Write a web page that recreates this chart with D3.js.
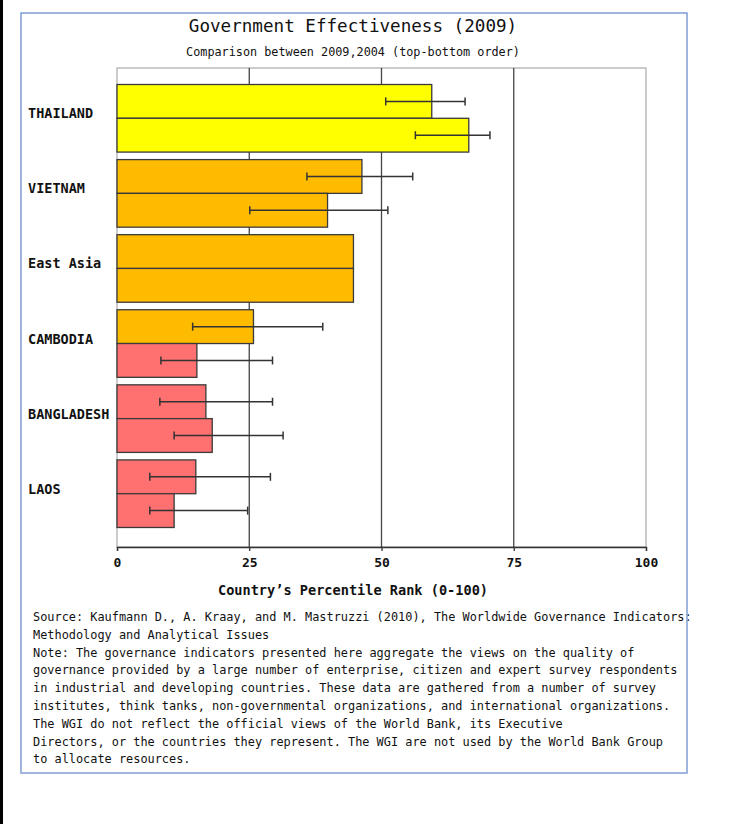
<!DOCTYPE html>
<html>
<head>
<meta charset="utf-8">
<script src="https://cdn.jsdelivr.net/npm/d3@7/dist/d3.min.js"></script>
<style>
  html, body { margin: 0; padding: 0; background: #fff; }
  svg { display: block; }
  text { font-family: "DejaVu Sans Mono", "Liberation Mono", monospace; fill: #111; }
</style>
</head>
<body>
<svg id="chart" width="736" height="824"></svg>
<script>
// Percentile ranks per country, 2009 (upper bar) and 2004 (lower bar)
const categories = ["THAILAND", "VIETNAM", "East Asia", "CAMBODIA", "BANGLADESH", "LAOS"];
const years = ["2009", "2004"];
const rank2009 = [59.5, 46.3, 44.7, 25.8, 16.8, 14.9];
const rank2004 = [66.5, 39.8, 44.7, 15.1, 18.0, 10.8];
// Margin-of-error ranges (regional aggregate has none)
const lower2009 = [50.8, 35.9, null, 14.3, 8.1, 6.2];
const upper2009 = [65.8, 55.9, null, 38.9, 29.4, 29.0];
const lower2004 = [56.4, 25.1, null, 8.3, 10.8, 6.2];
const upper2004 = [70.5, 51.2, null, 29.4, 31.4, 24.7];
const xTicks = [0, 25, 50, 75, 100];
const gridTicks = [25, 50, 75];

const title = "Government Effectiveness (2009)";
const subtitle = "Comparison between 2009,2004 (top-bottom order)";
const xTitle = "Country\u2019s Percentile Rank (0-100)";
const notes = [
  "Source: Kaufmann D., A. Kraay, and M. Mastruzzi (2010), The Worldwide Governance Indicators:",
  "Methodology and Analytical Issues",
  "Note: The governance indicators presented here aggregate the views on the quality of",
  "governance provided by a large number of enterprise, citizen and expert survey respondents",
  "in industrial and developing countries. These data are gathered from a number of survey",
  "institutes, think tanks, non-governmental organizations, and international organizations.",
  "The WGI do not reflect the official views of the World Bank, its Executive",
  "Directors, or the countries they represent. The WGI are not used by the World Bank Group",
  "to allocate resources."
];

const rows = categories.map((c, i) => ({
  category: c,
  bars: [
    { year: "2009", value: rank2009[i], lo: lower2009[i], hi: upper2009[i] },
    { year: "2004", value: rank2004[i], lo: lower2004[i], hi: upper2004[i] }
  ]
}));

const svg = d3.select("#chart");
const plot = { left: 117, right: 646, top: 68, bottom: 547 };
const centerX = 353;

const x = d3.scaleLinear().domain([0, 100]).range([plot.left, plot.right]);
const y = d3.scaleBand().domain(categories).range([77, 535]).paddingInner(0.1).paddingOuter(0.1);
const ySub = d3.scaleBand().domain(years).range([0, y.bandwidth()]);

// Percentile bracket colours
const color = d3.scaleThreshold()
  .domain([10, 25, 50, 75])
  .range(["#e00000", "#ff7070", "#ffbb00", "#ffff00", "#00b050"]);

// Left page rule
svg.append("rect").attr("x", 0).attr("y", 0).attr("width", 3).attr("height", 824).attr("fill", "#000");

// Titles
svg.append("text").attr("x", centerX).attr("y", 32).attr("text-anchor", "middle")
  .style("font-size", "17.6px").text(title);
svg.append("text").attr("x", centerX).attr("y", 56).attr("text-anchor", "middle")
  .style("font-size", "11.8px").text(subtitle);

// Plot box and grid
svg.append("rect")
  .attr("x", plot.left).attr("y", plot.top)
  .attr("width", plot.right - plot.left).attr("height", plot.bottom - plot.top)
  .attr("fill", "none").attr("stroke", "#aaa").attr("stroke-width", 1.2);

svg.append("g").selectAll("line").data(gridTicks).join("line")
  .attr("x1", d => x(d)).attr("x2", d => x(d))
  .attr("y1", plot.top).attr("y2", plot.bottom)
  .attr("stroke", "#444").attr("stroke-width", 1.3);

// Bars
const groups = svg.append("g").selectAll("g").data(rows).join("g")
  .attr("transform", d => `translate(0,${y(d.category)})`);

groups.selectAll("rect").data(d => d.bars).join("rect")
  .attr("x", x(0))
  .attr("y", d => ySub(d.year))
  .attr("width", d => x(d.value) - x(0))
  .attr("height", ySub.bandwidth())
  .attr("fill", d => color(d.value))
  .attr("stroke", "#3a3a3a").attr("stroke-width", 1.3);

// Error bars
const err = groups.selectAll("g.err").data(d => d.bars.filter(b => b.lo != null)).join("g")
  .attr("class", "err")
  .attr("transform", d => `translate(0,${ySub(d.year) + ySub.bandwidth() / 2})`);
err.append("line").attr("x1", d => x(d.lo)).attr("x2", d => x(d.hi))
  .attr("stroke", "#333").attr("stroke-width", 1.5);
err.selectAll("line.cap").data(d => [d.lo, d.hi]).join("line").attr("class", "cap")
  .attr("x1", v => x(v)).attr("x2", v => x(v)).attr("y1", -4).attr("y2", 4)
  .attr("stroke", "#333").attr("stroke-width", 1.5);

// Category labels
svg.append("g").selectAll("text").data(categories).join("text")
  .attr("x", 28).attr("y", d => y(d) + y.bandwidth() / 2)
  .style("font-size", "13.5px").style("font-weight", "bold")
  .text(d => d);

// X axis
const xAxis = svg.append("g").attr("transform", `translate(0,${plot.bottom})`)
  .call(d3.axisBottom(x).tickValues(xTicks).tickSize(4).tickPadding(7));
xAxis.select(".domain").attr("stroke", "#333").attr("stroke-width", 1.3);
xAxis.selectAll(".tick line").attr("stroke", "#333").attr("stroke-width", 1.3);
xAxis.selectAll(".tick text")
  .style("font-family", "'DejaVu Sans Mono', monospace")
  .style("font-size", "13px").style("font-weight", "bold").attr("fill", "#111");

svg.append("text").attr("x", centerX).attr("y", 595).attr("text-anchor", "middle")
  .style("font-size", "13.6px").style("font-weight", "bold").text(xTitle);

// Notes
svg.append("g").selectAll("text").data(notes).join("text")
  .attr("x", 33).attr("y", (d, i) => 621 + i * 17.8)
  .style("font-size", "11.9px")
  .text(d => d);

// Outer frame
svg.append("rect").attr("x", 21).attr("y", 13).attr("width", 666).attr("height", 760)
  .attr("fill", "none").attr("stroke", "#7f9fd4").attr("stroke-width", 1.5);
</script>
</body>
</html>
